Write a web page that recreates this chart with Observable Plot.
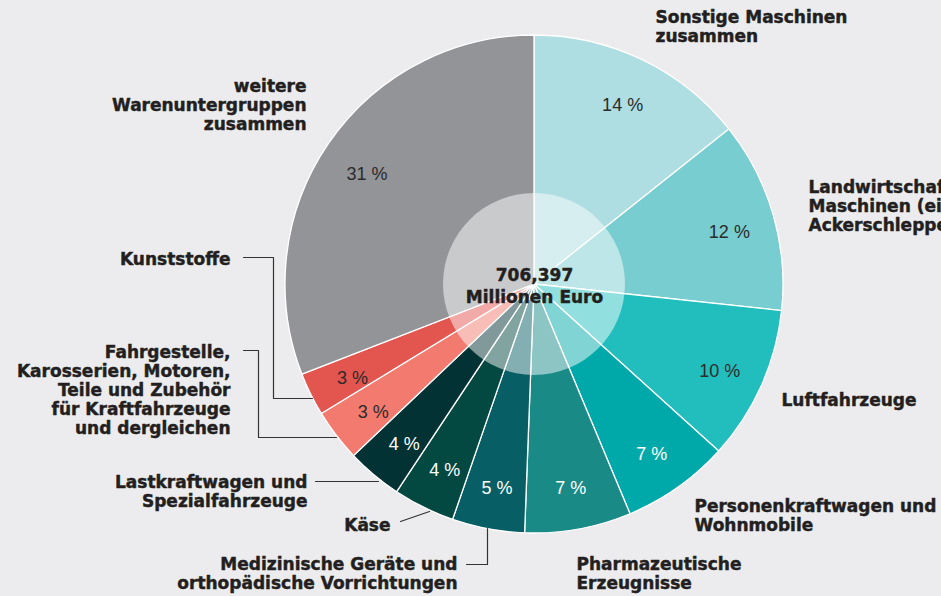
<!DOCTYPE html>
<html><head><meta charset="utf-8">
<script src="https://cdn.jsdelivr.net/npm/d3@7"></script>
<script src="https://cdn.jsdelivr.net/npm/@observablehq/plot@0.6"></script>
<style>
html,body{margin:0;padding:0;background:#ececee;overflow:hidden}
#chart svg{display:block}
</style></head><body><div id="chart"></div>
<script>
// ---- data ----
const categories = [
  "Sonstige Maschinen\nzusammen",
  "Landwirtschaftliche\nMaschinen (einschl.\nAckerschlepper)",
  "Luftfahrzeuge",
  "Personenkraftwagen und\nWohnmobile",
  "Pharmazeutische\nErzeugnisse",
  "Medizinische Geräte und\northopädische Vorrichtungen",
  "Käse",
  "Lastkraftwagen und\nSpezialfahrzeuge",
  "Fahrgestelle,\nKarosserien, Motoren,\nTeile und Zubehör\nfür Kraftfahrzeuge\nund dergleichen",
  "Kunststoffe",
  "weitere\nWarenuntergruppen\nzusammen"
];
const shares = [14.3, 12.4, 10.0, 7.0, 6.9, 4.7, 4.0, 3.6, 3.4, 2.8, 30.9];
const percentLabels = ["14 %", "12 %", "10 %", "7 %", "7 %", "5 %", "4 %", "4 %", "3 %", "3 %", "31 %"];
const totalValue = "706,397";
const totalUnit = "Millionen Euro";

// ---- styles ----
const sliceColors = ["#aedde2", "#78cdd0", "#22bebe", "#00a9a9", "#198a86", "#075f65", "#034841", "#023234", "#f37a6f", "#e3554f", "#939498"];
const pctTextColors = ["#2b2b2b", "#2b2b2b", "#2b2b2b", "#ffffff", "#ffffff", "#ffffff", "#ffffff", "#ffffff", "#2b2b2b", "#2b2b2b", "#2b2b2b"];

// ---- layout (pixels) ----
const W = 941, H = 596;
const pieLayout = {cx: 534, cy: 284, r: 249, inner: 91, labelR: 0.815};
const fontSize = 17, lineH = 1.13;
// label anchor: x, first-line baseline, text anchor
const labelLayout = [
  {x: 655, base: 22, anchor: "start"},
  {x: 808, base: 192, anchor: "start"},
  {x: 781, base: 405, anchor: "start"},
  {x: 694, base: 511, anchor: "start"},
  {x: 576, base: 569, anchor: "start"},
  {x: 457, base: 569, anchor: "end"},
  {x: 390, base: 530, anchor: "end"},
  {x: 307, base: 487, anchor: "end"},
  {x: 230, base: 357, anchor: "end"},
  {x: 230, base: 264, anchor: "end"},
  {x: 306, base: 91, anchor: "end"}
];
const leaderLines = [
  {id: "kunst", pts: [[243,257],[273,257],[273,398],[312,398]]},
  {id: "fahr", pts: [[243,350],[258,350],[258,437],[336,437]]},
  {id: "lkw", pts: [[315,481],[378,481]]},
  {id: "kaese", pts: [[400,521],[429,511]]},
  {id: "med", pts: [[466,564],[487,564],[487,528]]}
];

const pie = d3.pie().sort(null).value(d => d).startAngle(0).endAngle(2 * Math.PI)(shares);
const slices = pie.map((p, i) => ({i, mid: (p.startAngle + p.endAngle) / 2}));

function pieMark(index, scales) {
  const sx = typeof scales.x === "function" ? scales.x : (v => v);
  const sy = typeof scales.y === "function" ? scales.y : (v => v);
  const cx = sx(pieLayout.cx), cy = sy(pieLayout.cy);
  const r = sx(pieLayout.cx + pieLayout.r) - cx;
  const ri = sx(pieLayout.cx + pieLayout.inner) - cx;
  const g = d3.create("svg:g").attr("transform", `translate(${cx},${cy})`);
  const arc = d3.arc().innerRadius(0).outerRadius(r);
  g.selectAll("path").data(pie).join("path")
    .attr("d", arc)
    .attr("fill", (d, i) => sliceColors[i])
    .attr("stroke", "#ffffff")
    .attr("stroke-width", 1.3)
    .attr("stroke-linejoin", "round");
  g.append("circle").attr("r", ri).attr("fill", "#ffffff").attr("fill-opacity", 0.5);
  return g.node();
}

const labels = categories.map((t, i) => ({t, ...labelLayout[i], y: labelLayout[i].base - 0.71 * lineH * fontSize}));
const leaderPts = leaderLines.flatMap(l => l.pts.map(p => ({id: l.id, x: p[0], y: p[1]})));

const textCommon = {fontFamily: "DejaVu Sans", fontWeight: "bold", fontSize, lineHeight: lineH, lineAnchor: "top", fill: "#231f20", stroke: "#231f20", strokeWidth: 0.45};

const chart = Plot.plot({
  width: W, height: H,
  margin: 0,
  x: {domain: [0, W], range: [0, W], axis: null},
  y: {domain: [0, H], range: [0, H], axis: null},
  color: {type: "identity"},
  style: {background: "#ececee", overflow: "hidden"},
  marks: [
    pieMark,
    Plot.text(slices, {
      x: d => pieLayout.cx + pieLayout.labelR * pieLayout.r * Math.sin(d.mid),
      y: d => pieLayout.cy - pieLayout.labelR * pieLayout.r * Math.cos(d.mid),
      dy: 4,
      text: d => percentLabels[d.i],
      fill: d => pctTextColors[d.i],
      fontFamily: "Liberation Sans", fontSize: 18, textAnchor: "middle"
    }),
    Plot.text([totalValue + "\n" + totalUnit], {
      x: () => pieLayout.cx, y: () => 280 - 0.71 * 1.3 * fontSize,
      text: d => d, fontFamily: "DejaVu Sans", fontWeight: "bold", fontSize,
      lineHeight: 1.3, lineAnchor: "top", textAnchor: "middle", fill: "#231f20", stroke: "#231f20", strokeWidth: 0.45
    }),
    Plot.line(leaderPts, {x: "x", y: "y", z: "id", stroke: "#333333", strokeWidth: 1.2, curve: "linear"}),
    Plot.text(labels.filter(d => d.anchor === "start"), {x: "x", y: "y", text: "t", textAnchor: "start", ...textCommon}),
    Plot.text(labels.filter(d => d.anchor === "end"), {x: "x", y: "y", text: "t", textAnchor: "end", ...textCommon})
  ]
});
document.getElementById("chart").appendChild(chart);
</script>
</body></html>
